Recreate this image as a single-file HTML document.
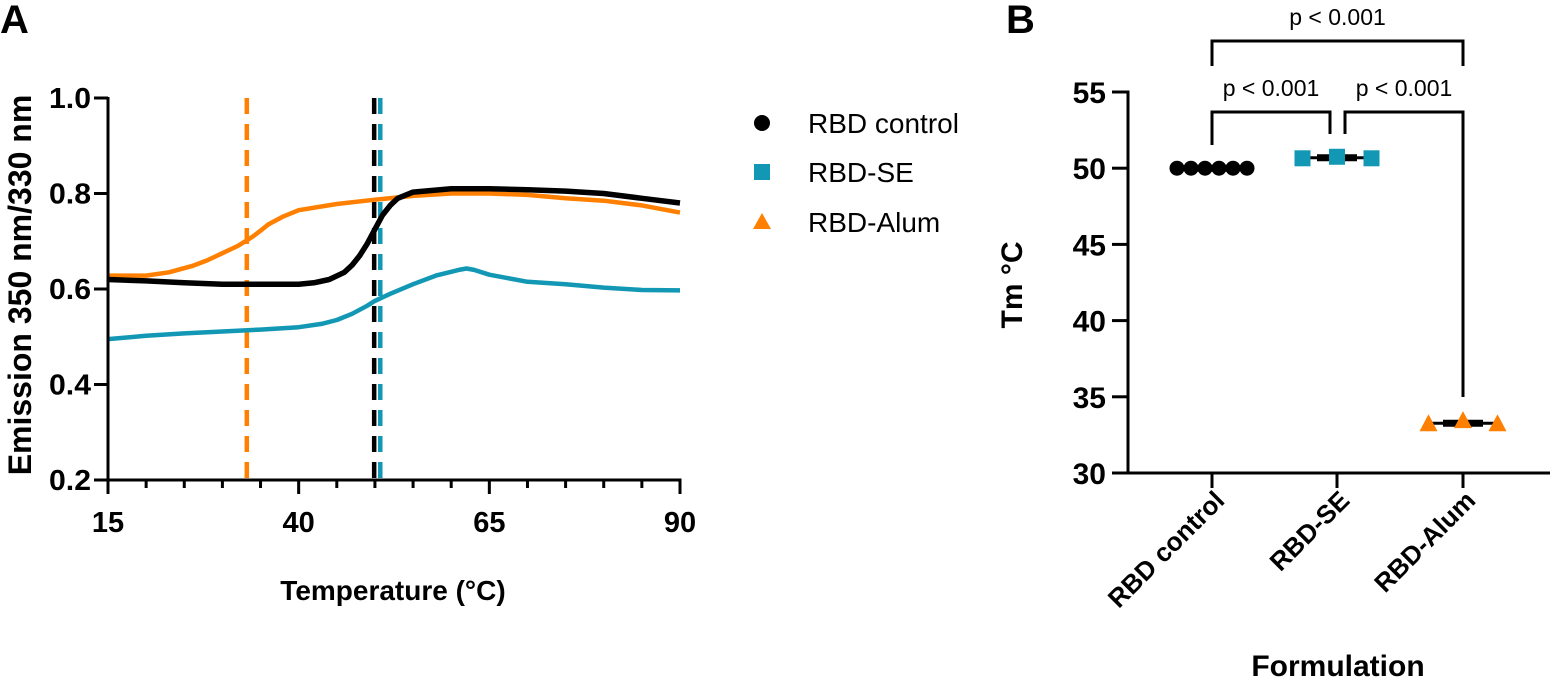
<!DOCTYPE html>
<html><head><meta charset="utf-8"><style>
html,body{margin:0;padding:0;background:#fff;}
svg{display:block;font-family:"Liberation Sans",Arial,sans-serif;}
</style></head><body>
<svg id="fig" width="1550" height="678" viewBox="0 0 1550 678">
<text x="0" y="33" font-size="40" font-weight="bold">A</text>
<text x="1006" y="33" font-size="40" font-weight="bold">B</text>
<g id="pa"></g>
<g id="pb"></g>
</svg>
<script>
// Panel A data
const tempBlack = [15,20,25,30,35,40,42,44,46,47,48,49,50,51,52,53,55,60,65,70,75,80,85,90];
const valBlack  = [0.62,0.617,0.613,0.61,0.61,0.61,0.613,0.62,0.635,0.65,0.67,0.695,0.725,0.755,0.775,0.79,0.803,0.81,0.81,0.808,0.805,0.8,0.79,0.78];
const tempOrange = [15,20,23,26,28,30,32,33,34,35,36,38,40,45,50,55,60,65,70,75,80,85,90];
const valOrange  = [0.628,0.628,0.635,0.648,0.66,0.675,0.69,0.7,0.71,0.722,0.735,0.752,0.765,0.778,0.787,0.795,0.8,0.8,0.797,0.79,0.785,0.775,0.76];
const tempTeal = [15,20,25,30,35,40,43,45,47,49,50,52,55,58,61,62,63,65,70,75,80,85,90];
const valTeal  = [0.495,0.502,0.507,0.511,0.515,0.52,0.527,0.535,0.548,0.565,0.575,0.59,0.61,0.628,0.64,0.643,0.64,0.63,0.615,0.61,0.603,0.598,0.597];
const tmLines = [33.2, 49.9, 50.7];
const tmColors = ['#ff8000','#000000','#1298b4'];
const yTicksA = [0.2,0.4,0.6,0.8,1.0];
const yTickLabelsA = ['0.2','0.4','0.6','0.8','1.0'];
const xTicksA = [15,40,65,90];
const legendLabels = ['RBD control','RBD-SE','RBD-Alum'];
// Panel B data
const categories = ['RBD control','RBD-SE','RBD-Alum'];
const tmControl = [50.0,50.0,50.0,50.0,50.0,50.0];
const tmSE = [50.65,50.75,50.65];
const tmAlum = [33.2,33.4,33.2];
const yTicksB = [30,35,40,45,50,55];
const pLabels = ['p < 0.001','p < 0.001','p < 0.001'];

const NS='http://www.w3.org/2000/svg';
function mk(parent,tag,attrs,text){const e=document.createElementNS(NS,tag);for(const k in attrs)e.setAttribute(k,attrs[k]);if(text!==undefined)e.textContent=text;parent.appendChild(e);return e;}

const pa=document.getElementById('pa');
const xA=t=>108+(t-15)/75*572;
const yA=v=>480-(v-0.2)/0.8*382;
tmLines.forEach((t,i)=>{
  const l=mk(pa,'line',{x1:xA(t),x2:xA(t),y1:yA(1.0),y2:yA(0.2),stroke:tmColors[i],'stroke-width':4.5,'stroke-dasharray':'16,10'});
  
  
});
function curve(ts,vs,color,name,w){
  const d=ts.map((t,i)=>(i?'L':'M')+xA(t).toFixed(1)+','+yA(vs[i]).toFixed(1)).join(' ');
  const p=mk(pa,'path',{d:d,fill:'none',stroke:color,'stroke-width':w,'stroke-linejoin':'round'});
  
  
}
curve(tempTeal,valTeal,'#1298b4','rbd-se-curve',4.5);
curve(tempOrange,valOrange,'#ff8000','rbd-alum-curve',4.5);
curve(tempBlack,valBlack,'#000000','rbd-control-curve',5.5);
const axA=mk(pa,'g',{});


mk(axA,'line',{x1:108,x2:108,y1:yA(1.0)-1,y2:yA(0.2)+1,stroke:'#000','stroke-width':3});
mk(axA,'line',{x1:106,x2:xA(90)+1.5,y1:yA(0.2),y2:yA(0.2),stroke:'#000','stroke-width':3});
yTicksA.forEach((v,i)=>{
  mk(axA,'line',{x1:94,x2:108,y1:yA(v),y2:yA(v),stroke:'#000','stroke-width':3});
  const t=mk(axA,'text',{x:91,y:yA(v)+10,'font-size':29,'font-weight':'bold','text-anchor':'end',textLength:42,lengthAdjust:'spacingAndGlyphs'},yTickLabelsA[i]);
  
  
});
for(let t=15;t<=90;t+=5){
  const major=xTicksA.includes(t);
  mk(axA,'line',{x1:xA(t),x2:xA(t),y1:yA(0.2),y2:yA(0.2)+(major?14:8),stroke:'#000','stroke-width':3});
}
xTicksA.forEach(t=>{
  const e=mk(axA,'text',{x:xA(t),y:532,'font-size':29,'font-weight':'bold','text-anchor':'middle'},String(t));
  
  
});
let e=mk(pa,'text',{x:393,y:600,'font-size':28,'font-weight':'bold','text-anchor':'middle'},'Temperature (°C)');


e=mk(pa,'text',{x:0,y:0,'font-size':32,'font-weight':'bold','text-anchor':'middle',transform:'translate(31,285) rotate(-90)'},'Emission 350 nm/330 nm');


const legY=[123,172,222];
legendLabels.forEach((lab,i)=>{
  const g=mk(pa,'g',{});
  
  
  if(i===0) mk(g,'circle',{cx:762,cy:legY[i],r:8,fill:'#000'});
  if(i===1) mk(g,'rect',{x:754,y:legY[i]-8,width:16,height:16,fill:'#1298b4'});
  if(i===2) mk(g,'polygon',{points:`762,${legY[i]-9} 771,${legY[i]+7} 753,${legY[i]+7}`,fill:'#ff8000'});
  mk(g,'text',{x:808,y:legY[i]+10,'font-size':28},lab);
});

// Panel B
const pb=document.getElementById('pb');
const yB=v=>473-(v-30)/25*381;
const catX=[1212,1337,1463];
const axB=mk(pb,'g',{});


mk(axB,'line',{x1:1128,x2:1128,y1:yB(55)-1.5,y2:yB(30)+1.5,stroke:'#000','stroke-width':3});
mk(axB,'line',{x1:1112,x2:1550,y1:yB(30),y2:yB(30),stroke:'#000','stroke-width':3});
yTicksB.forEach(v=>{
  mk(axB,'line',{x1:1112,x2:1128,y1:yB(v),y2:yB(v),stroke:'#000','stroke-width':3});
  const t=mk(axB,'text',{x:1106,y:yB(v)+11,'font-size':30,'font-weight':'bold','text-anchor':'end'},String(v));
  
  
});
categories.forEach((c,i)=>{
  mk(axB,'line',{x1:catX[i],x2:catX[i],y1:yB(30),y2:yB(30)+15,stroke:'#000','stroke-width':3});
  const t=mk(axB,'text',{x:0,y:0,'font-size':26,'font-weight':'bold','text-anchor':'end',transform:`translate(${catX[i]+14},${502}) rotate(-45)`},c);
  
  
});
e=mk(pb,'text',{x:1338,y:676,'font-size':30,'font-weight':'bold','text-anchor':'middle'},'Formulation');


e=mk(pb,'text',{x:0,y:0,'font-size':30,'font-weight':'bold','text-anchor':'middle',transform:'translate(1022,285) rotate(-90)'},'Tm °C');


function mean(a){return a.reduce((s,v)=>s+v,0)/a.length;}
function group(vals,ci,shape,color,spacing,name){
  const g=mk(pb,'g',{});
  
  
  const n=vals.length, x0=catX[ci]-(n-1)/2*spacing;
  const m=mean(vals);
  mk(g,'line',{x1:x0,x2:x0+(n-1)*spacing,y1:yB(m),y2:yB(m),stroke:'#000','stroke-width':3});
  mk(g,'line',{x1:catX[ci]-20,x2:catX[ci]+20,y1:yB(m),y2:yB(m),stroke:'#000','stroke-width':7});
  vals.forEach((v,i)=>{
    const x=x0+i*spacing,y=yB(v);
    let p;
    if(shape==='c') p=mk(g,'circle',{cx:x,cy:y,r:7.5,fill:color});
    if(shape==='s') p=mk(g,'rect',{x:x-8,y:y-8,width:16,height:16,fill:color});
    if(shape==='t') p=mk(g,'polygon',{points:`${x},${y-10} ${x+9},${y+7} ${x-9},${y+7}`,fill:color});
    
    
  });
}
group(tmControl,0,'c','#000',14,'rbd-control-points');
group(tmSE,1,'s','#1298b4',34.5,'rbd-se-points');
group(tmAlum,2,'t','#ff8000',34.5,'rbd-alum-points');
function bracket(x1,x2,yTop,yL,yR,label,name){
  const g=mk(pb,'g',{});
  
  
  mk(g,'path',{d:`M${x1},${yL} L${x1},${yTop} L${x2},${yTop} L${x2},${yR}`,fill:'none',stroke:'#000','stroke-width':3});
  mk(g,'text',{x:(x1+x2)/2,y:yTop-16,'font-size':23,'text-anchor':'middle'},label);
}
bracket(1212,1330,112,145,134,pLabels[0],'significance-control-vs-se');
bracket(1345,1463,112,134,397,pLabels[1],'significance-se-vs-alum');
bracket(1212,1463,41,66,66,pLabels[2],'significance-control-vs-alum');
</script>
</body></html>
